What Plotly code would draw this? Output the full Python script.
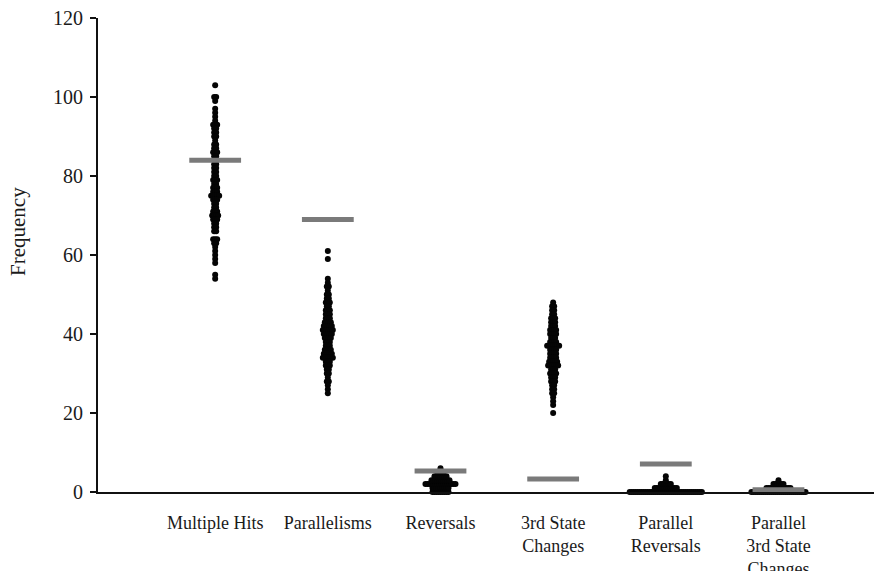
import plotly.graph_objects as go

categories = ["Multiple Hits", "Parallelisms", "Reversals", "3rd State<br>Changes",
              "Parallel<br>Reversals", "Parallel<br>3rd State<br>Changes"]
positions = [1, 2, 3, 4, 5, 6]

# value -> number of replicate observations at that value
multiple_hits = {103: 1, 100: 2, 99: 1, 97: 1, 96: 1, 95: 1, 94: 1, 93: 3, 92: 2, 91: 2,
                 90: 2, 89: 1, 88: 2, 87: 2, 86: 3, 85: 2, 84: 2, 83: 2, 82: 2, 81: 2,
                 80: 2, 79: 3, 78: 2, 77: 3, 76: 3, 75: 5, 74: 3, 73: 2, 72: 2, 71: 3,
                 70: 4, 69: 3, 68: 2, 67: 2, 66: 2, 64: 3, 63: 2, 62: 1, 61: 1, 60: 1,
                 59: 1, 58: 1, 55: 1, 54: 1}
parallelisms = {61: 1, 59: 1, 54: 1, 53: 1, 52: 2, 51: 1, 50: 2, 49: 2, 48: 3, 47: 2,
                46: 3, 45: 3, 44: 3, 43: 4, 42: 5, 41: 6, 40: 5, 39: 4, 38: 3, 37: 3,
                36: 4, 35: 5, 34: 6, 33: 3, 32: 3, 31: 2, 30: 2, 29: 1, 28: 2, 27: 1,
                26: 1, 25: 1}
reversals = {0: 9, 1: 9, 2: 16, 3: 10, 4: 7, 5: 4, 6: 1}
third_state = {48: 1, 47: 2, 46: 2, 45: 2, 44: 3, 43: 3, 42: 3, 41: 4, 40: 4, 39: 3,
               38: 4, 37: 7, 36: 4, 35: 4, 34: 4, 33: 5, 32: 6, 31: 3, 30: 4, 29: 3,
               28: 3, 27: 2, 26: 2, 25: 2, 24: 1, 23: 1, 22: 1, 20: 1}
parallel_reversals = {0: 37, 1: 12, 2: 6, 3: 1, 4: 1}
parallel_third = {0: 28, 1: 13, 2: 6, 3: 1}

series = [multiple_hits, parallelisms, reversals, third_state,
          parallel_reversals, parallel_third]

# expected (grey bar) values
expected = [84, 69, 5.3, 3.3, 7.1, 0.6]

yticks = [0, 20, 40, 60, 80, 100, 120]

SPACING = 0.0178  # horizontal spread between tied points (x-axis units)

fig = go.Figure()

for pos, counts in zip(positions, series):
    xs, ys = [], []
    for v, n in counts.items():
        for i in range(n):
            xs.append(pos + (i - (n - 1) / 2) * SPACING)
            ys.append(v)
    fig.add_trace(go.Scatter(
        x=xs, y=ys, mode="markers",
        marker=dict(size=6, color="#050505", line=dict(width=0)),
        cliponaxis=False, showlegend=False, hoverinfo="y"))

fig.add_trace(go.Scatter(
    x=positions, y=expected, mode="markers",
    marker=dict(symbol="line-ew", size=37, color="#7a7a7a",
                line=dict(width=5, color="#7a7a7a")),
    cliponaxis=False, showlegend=False, hoverinfo="y"))

font_family = "Liberation Serif"
plot_w = 882 - 90

fig.update_layout(
    width=882, height=571,
    margin=dict(l=90, r=0, t=10, b=87),
    paper_bgcolor="white", plot_bgcolor="white",
    font=dict(family=font_family, color="#1a1a1a"),
    xaxis=dict(
        range=[-0.04, 6.99], showgrid=False, zeroline=False, automargin=False,
        showline=True, linecolor="#111", linewidth=2,
        tickmode="array", tickvals=positions, ticktext=categories,
        ticks="", tickfont=dict(size=18, family=font_family, color="#1a1a1a"),
        ticklabelstandoff=13, ticklabeloverflow="allow",
    ),
    yaxis=dict(
        range=[0, 120], showgrid=False, zeroline=False, automargin=False,
        showline=True, linecolor="#111", linewidth=2,
        tickmode="array", tickvals=yticks,
        ticks="outside", ticklen=6, tickwidth=2, tickcolor="#111",
        tickfont=dict(size=20, family=font_family, color="#1a1a1a"),
        ticklabelstandoff=3, ticklabeloverflow="allow",
    ),
    annotations=[dict(
        text="Frequency", textangle=-90, showarrow=False,
        xref="paper", yref="paper",
        x=(18 - 98) / plot_w, y=(492 - 232) / 474,
        xanchor="center", yanchor="middle",
        font=dict(size=21, family=font_family, color="#1a1a1a"),
    )],
)

fig.write_html("out.html")
